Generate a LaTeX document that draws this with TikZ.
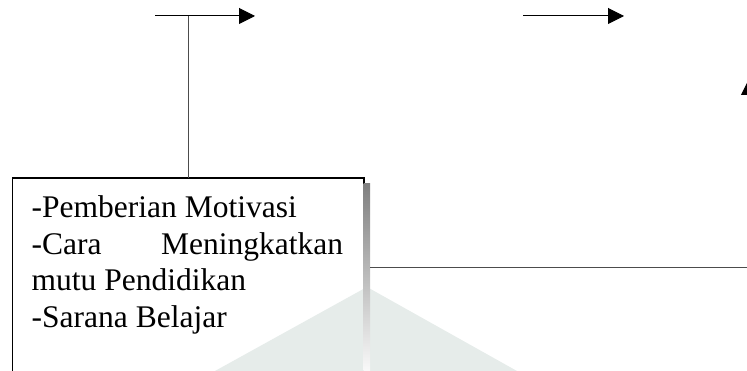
\documentclass[tikz,border=0pt]{standalone}
\usepackage{fontspec}
\setmainfont{Liberation Serif}
\usetikzlibrary{arrows.meta}
\definecolor{wmark}{HTML}{E6ECEA}
\definecolor{shade}{HTML}{7F7F7F}
\tikzset{
  conn/.style={draw=black, line width=1pt},
  arr/.style={conn, -{Triangle[length=16pt,width=16pt]}},
  itemline/.style={anchor=base west, inner sep=0pt, font=\fontsize{31.5}{36.5}\selectfont},
  boxframe/.style={draw=black, line width=1pt, fill=white, inner sep=0pt, anchor=north west}
}
\begin{document}
\begin{tikzpicture}[x=1pt,y=-1pt]
  \useasboundingbox (0,0) rectangle (747,371);
  \clip (0,0) rectangle (747,371);

  % list box (runs past the lower edge) with its shadow
  \node[boxframe, minimum width=351pt, minimum height=200pt] (box) at (12,178) {};
  \fill[wmark] (215,371) -- (367,287) -- (517,371) -- cycle;
  \draw[line width=1pt] (box.north west) -- (box.north east) -- (box.south east);
  \draw[line width=1pt] (box.north west) -- (box.south west);
  \fill[shade] (363.5,184) rectangle (370,380);

  % list items
  \node[itemline] (t1) at (31.5,218) {-Pemberian Motivasi};
  \node[itemline] (t2) at (31.5,254.5) {\makebox[311.5pt][s]{-Cara\hfill Meningkatkan}};
  \node[itemline] (t3) at (31.5,291) {mutu Pendidikan};
  \node[itemline] (t4) at (31.5,327.5) {-Sarana Belajar};

  % top arrows
  \coordinate (a1s) at (155,16);
  \coordinate (a1e) at (255,16);
  \coordinate (a2s) at (523,16);
  \coordinate (a2e) at (624,16);
  \coordinate (j1) at (188,16);
  \draw[arr] (a1s) -- (a1e);
  \draw[arr] (a2s) -- (a2e);
  \draw[conn, draw=black!70] (j1) -- (j1 |- box.north);

  % line leaving the box to the right and turning upward
  \coordinate (r1) at (749,267.5);
  \coordinate (r2) at (749,79);
  \draw[conn, draw=black!70] (370,267.5) -- (r1);
  \draw[arr] (r1) -- (r2);
\end{tikzpicture}
\end{document}
